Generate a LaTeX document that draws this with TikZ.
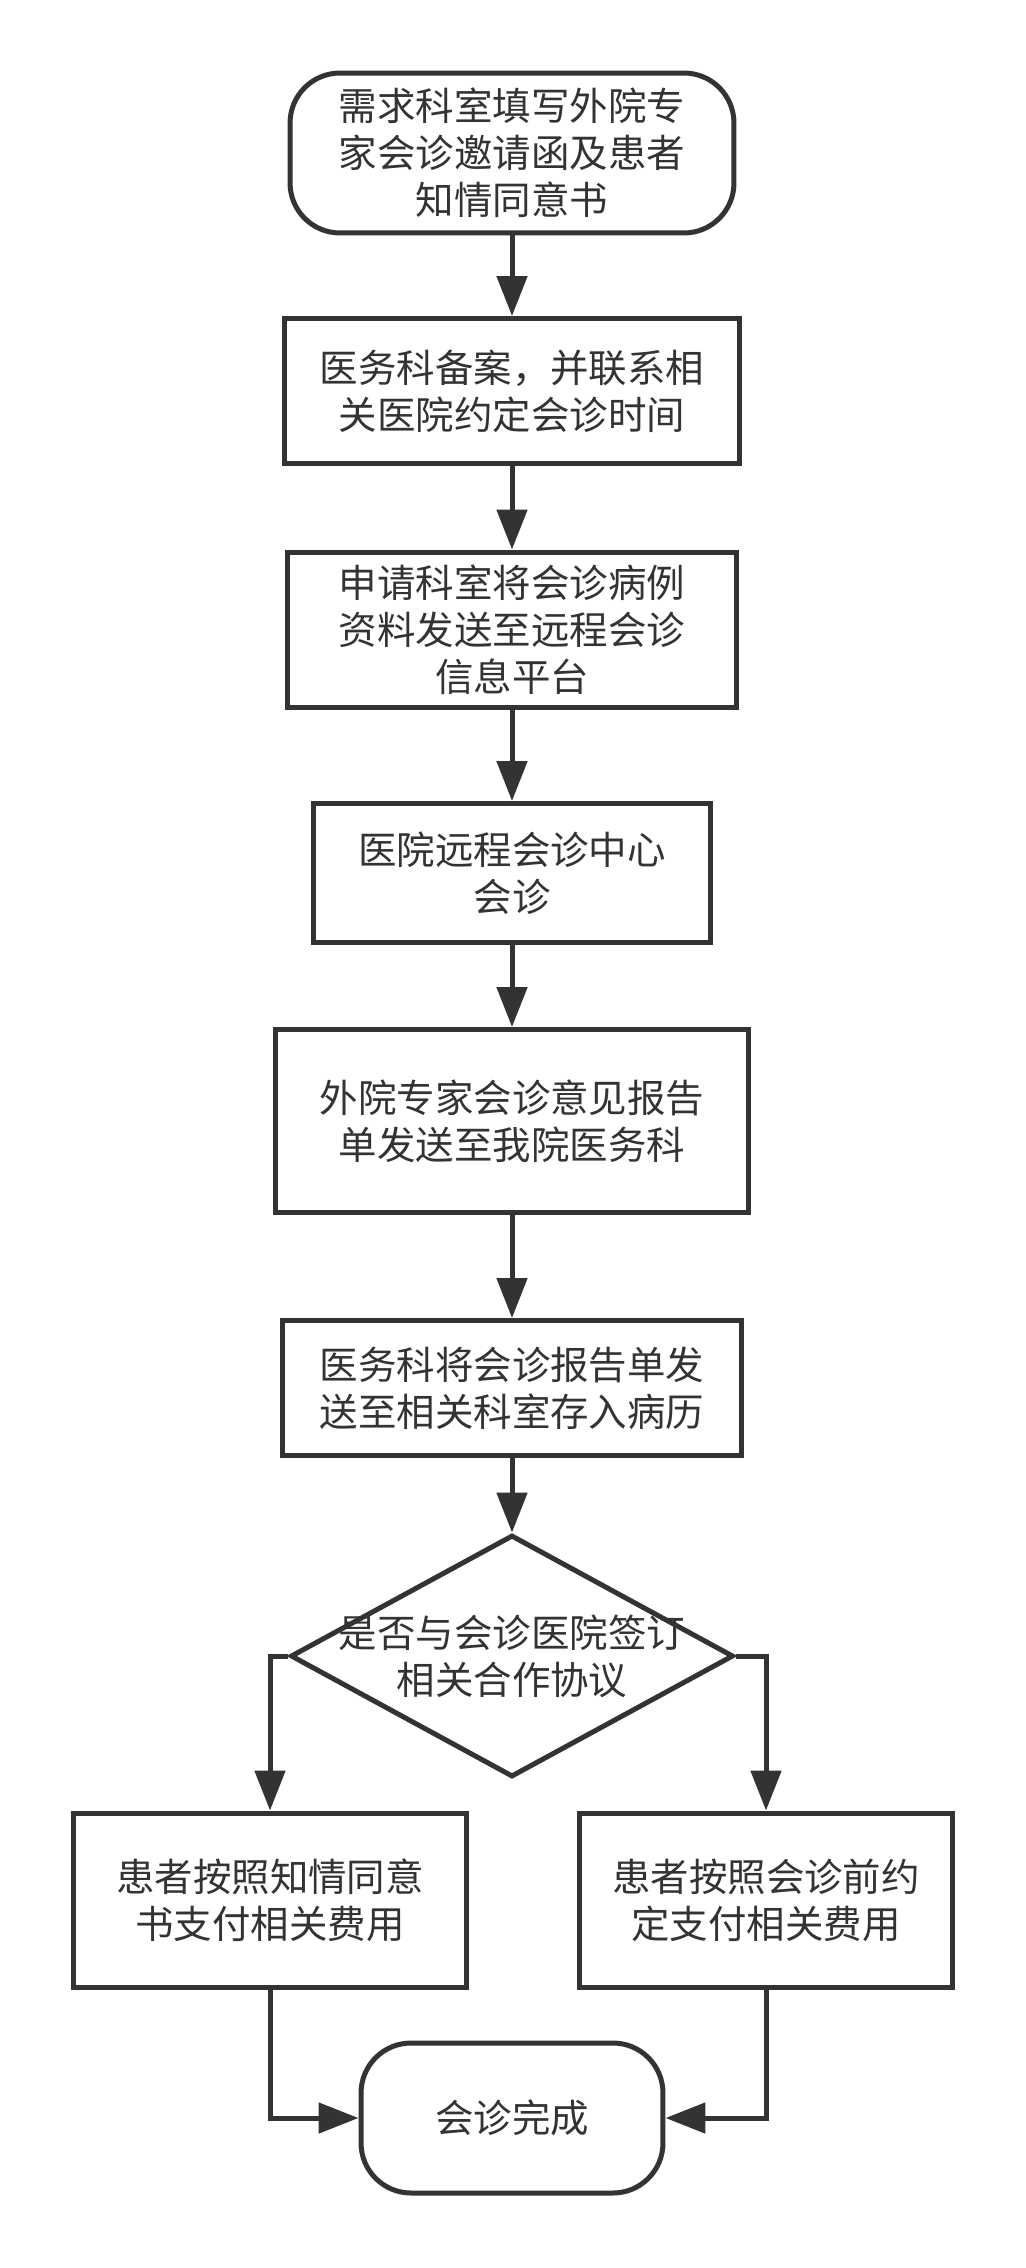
\documentclass[tikz,border=0pt]{standalone}
\usepackage{fontspec}
\setmainfont{Noto Sans CJK SC}
\usepackage{tikz}
\usetikzlibrary{arrows.meta,shapes.geometric}
\definecolor{ink}{HTML}{333333}

\begin{document}
\begin{tikzpicture}[x=0.02cm,y=-0.02cm,
	every node/.style={font=\fontsize{21.9pt}{26.7pt}\selectfont, text=ink, align=center, inner sep=0pt},
	box/.style={draw=ink, line width=0.1cm, rectangle},
	term/.style={draw=ink, line width=0.1cm, rectangle, rounded corners=1cm},
	decide/.style={draw=ink, line width=0.1cm, diamond},
	flow/.style={draw=ink, line width=0.1cm, -{Triangle[length=0.8cm,width=0.6cm]}}]
	\fill[white] (0,0) rectangle (1026,2268);
	\useasboundingbox (0,0) rectangle (1026,2268);

	% main column
	\node[term, minimum width=8.88cm, minimum height=3.2cm] (start) at (512,153) {需求科室填写外院专\\家会诊邀请函及患者\\知情同意书};
	\node[box, minimum width=9.1cm, minimum height=2.9cm] (b2) at (512,391) {医务科备案，并联系相\\关医院约定会诊时间};
	\node[box, minimum width=9cm, minimum height=3.12cm] (b3) at (512,630) {申请科室将会诊病例\\资料发送至远程会诊\\信息平台};
	\node[box, minimum width=7.94cm, minimum height=2.78cm] (b4) at (512,873) {医院远程会诊中心\\会诊};
	\node[box, minimum width=9.46cm, minimum height=3.66cm] (b5) at (512,1121) {外院专家会诊意见报告\\单发送至我院医务科};
	\node[box, minimum width=9.2cm, minimum height=2.7cm] (b6) at (512,1388) {医务科将会诊报告单发\\送至相关科室存入病历};
	\node[decide, minimum width=8.86cm, minimum height=4.84cm,
		label={[align=center]center:{是否与会诊医院签订\\相关合作协议}}] (dia) at (512,1656) {};

	% branches
	\node[box, minimum width=7.86cm, minimum height=3.48cm] (lb) at (270,1900) {患者按照知情同意\\书支付相关费用};
	\node[box, minimum width=7.48cm, minimum height=3.48cm] (rb) at (766,1900) {患者按照会诊前约\\定支付相关费用};
	\node[term, minimum width=6.04cm, minimum height=3cm] (end) at (512,2118) {会诊完成};

	\draw[flow] (start.south) -- (b2.north);
	\draw[flow] (b2.south) -- (b3.north);
	\draw[flow] (b3.south) -- (b4.north);
	\draw[flow] (b4.south) -- (b5.north);
	\draw[flow] (b5.south) -- (b6.north);
	\draw[flow] (b6.south) -- (dia.north);
	\draw[flow] (dia.west) -| (lb.north);
	\draw[flow] (dia.east) -| (rb.north);
	\draw[flow] (lb.south) |- (end.west);
	\draw[flow] (rb.south) |- (end.east);
\end{tikzpicture}
\end{document}
